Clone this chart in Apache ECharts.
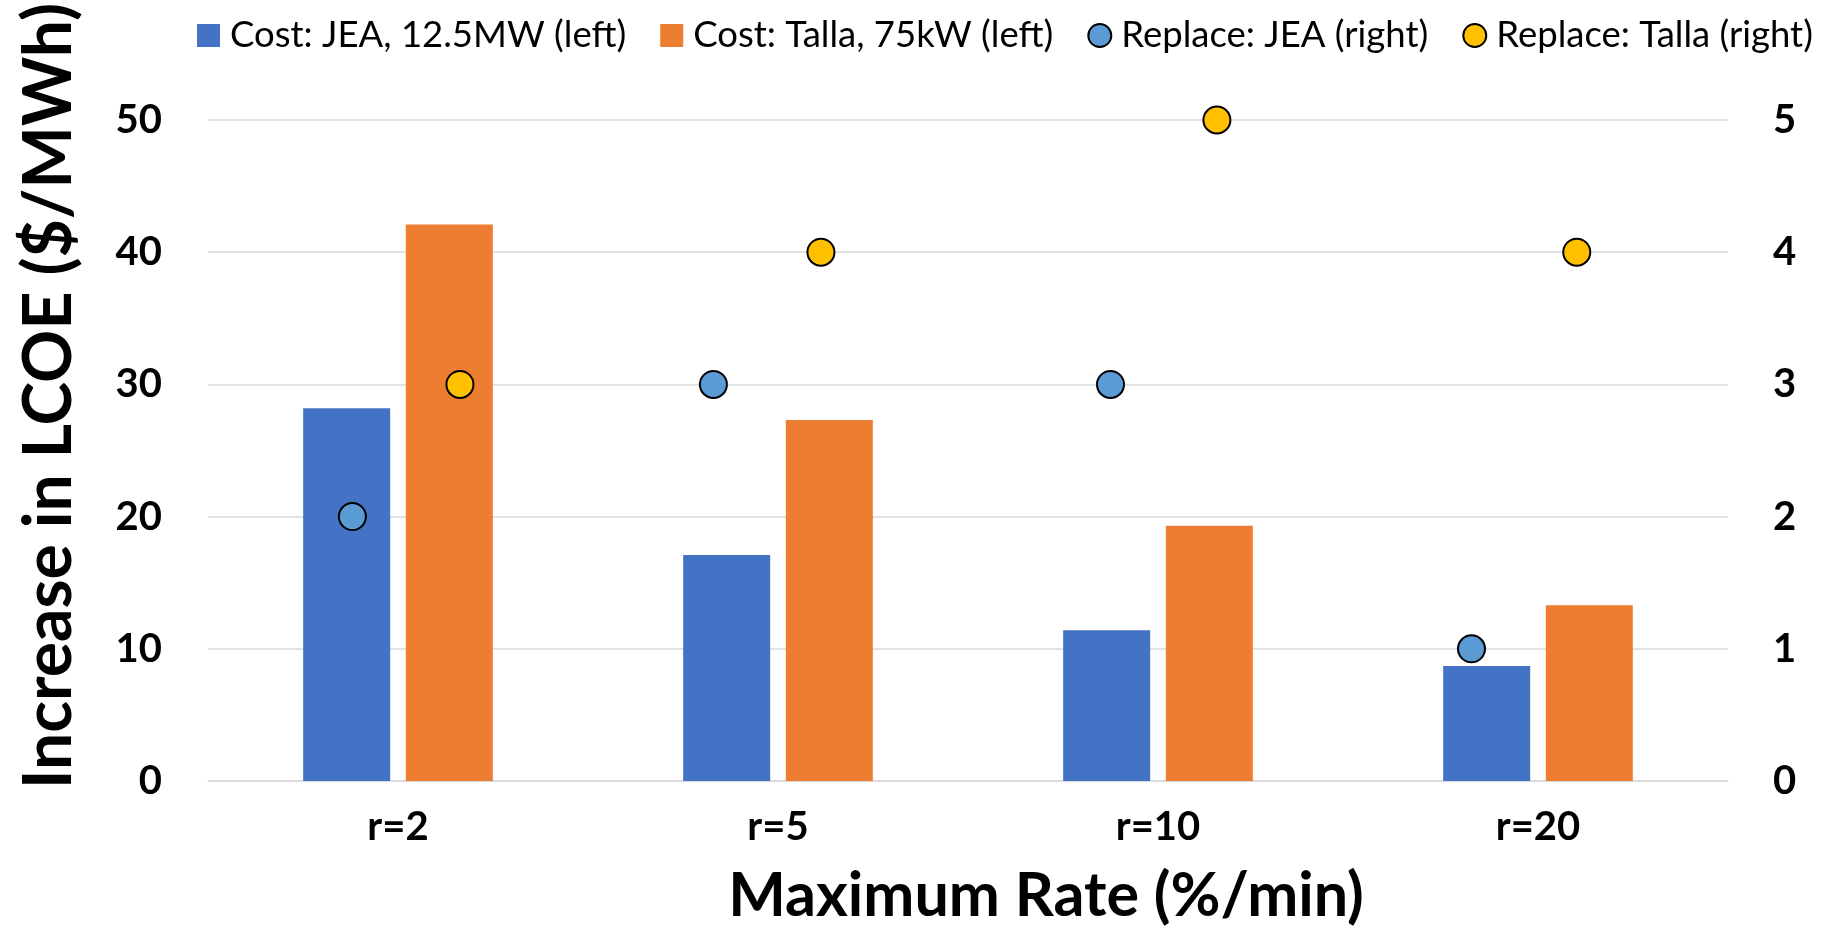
<!DOCTYPE html>
<html>
<head>
<meta charset="utf-8">
<script src="https://cdn.jsdelivr.net/npm/echarts@6/dist/echarts.min.js"></script>
<style>
html,body{margin:0;padding:0;background:#fff;}
#chart{width:1825px;height:928px;}
</style>
</head>
<body>
<div id="chart"></div>
<script>
const categories = ['r=2', 'r=5', 'r=10', 'r=20'];
const costJEA = [28.2, 17.1, 11.4, 8.7];
const costTalla = [42.1, 27.3, 19.3, 13.3];
const replaceJEA = [2, 3, 3, 1];
const replaceTalla = [3, 4, 5, 4];
// scatter x values (in category units, as plotted in the source chart)
const replaceJEAX = [0.38, 1.33, 2.375, 3.325];
const replaceTallaX = [0.663, 1.613, 2.655, 3.602];
const leftTicks = [0, 10, 20, 30, 40, 50];
const rightTicks = [0, 1, 2, 3, 4, 5];

const FONT = 'Lato, "Noto Sans", sans-serif';
const chart = echarts.init(document.getElementById('chart'), null, {renderer: 'canvas'});

const option = {
  backgroundColor: '#ffffff',
  animation: false,
  legend: {
    top: 17, left: 197, padding: 0,
    itemWidth: 23, itemHeight: 23, itemGap: 34,
    textStyle: {fontFamily: FONT, fontSize: 36.5, color: '#000', lineHeight: 37, padding: [0, 0, 0, 5]},
    data: [
      {name: 'Cost: JEA, 12.5MW (left)', icon: 'rect'},
      {name: 'Cost: Talla, 75kW (left)', icon: 'rect'},
      {name: 'Replace: JEA (right)', icon: 'circle'},
      {name: 'Replace: Talla (right)', icon: 'circle'}
    ]
  },
  grid: {left: 208, right: 97, top: 120, bottom: 147},
  xAxis: [
    {
      type: 'category', data: categories,
      axisLine: {show: true, lineStyle: {color: '#d9d9d9', width: 1.5}},
      axisTick: {show: false},
      axisLabel: {fontFamily: FONT, fontWeight: 'bold', fontSize: 40, color: '#000', margin: 26}
    },
    {type: 'value', min: 0, max: 4, show: false}
  ],
  yAxis: [
    {
      type: 'value', min: leftTicks[0], max: leftTicks[leftTicks.length - 1], interval: 10,
      axisLine: {show: false}, axisTick: {show: false},
      splitLine: {lineStyle: {color: '#d9d9d9', width: 1.5}},
      axisLabel: {fontFamily: FONT, fontWeight: 'bold', fontSize: 40, color: '#000', margin: 46}
    },
    {
      type: 'value', min: rightTicks[0], max: rightTicks[rightTicks.length - 1], interval: 1,
      axisLine: {show: false}, axisTick: {show: false},
      splitLine: {show: false},
      axisLabel: {fontFamily: FONT, fontWeight: 'bold', fontSize: 40, color: '#000', margin: 45}
    }
  ],
  series: [
    {
      name: 'Cost: JEA, 12.5MW (left)', type: 'bar', xAxisIndex: 0, yAxisIndex: 0,
      data: costJEA, barWidth: 87, barGap: '18%',
      itemStyle: {color: '#4472C4'}
    },
    {
      name: 'Cost: Talla, 75kW (left)', type: 'bar', xAxisIndex: 0, yAxisIndex: 0,
      data: costTalla, barWidth: 87, barGap: '18%',
      itemStyle: {color: '#ED7D31'}
    },
    {
      name: 'Replace: JEA (right)', type: 'scatter', xAxisIndex: 1, yAxisIndex: 1,
      data: replaceJEA.map((v, i) => [replaceJEAX[i], v]),
      symbol: 'circle', symbolSize: 27,
      itemStyle: {color: '#5B9BD5', borderColor: '#000', borderWidth: 2, opacity: 1},
      z: 5
    },
    {
      name: 'Replace: Talla (right)', type: 'scatter', xAxisIndex: 1, yAxisIndex: 1,
      data: replaceTalla.map((v, i) => [replaceTallaX[i], v]),
      symbol: 'circle', symbolSize: 27,
      itemStyle: {color: '#FFC000', borderColor: '#000', borderWidth: 2, opacity: 1},
      z: 5
    }
  ],
  graphic: [
    {
      type: 'text', x: 50, y: 396, rotation: Math.PI / 2,
      style: {text: 'Increase in LCOE ($/MWh)', fontFamily: FONT, fontWeight: 'bold', fontSize: 66,
              fill: '#000', align: 'center', verticalAlign: 'middle'}
    },
    {
      type: 'text', x: 1046, y: 896,
      style: {text: 'Maximum Rate (%/min)', fontFamily: FONT, fontWeight: 'bold', fontSize: 61,
              fill: '#000', align: 'center', verticalAlign: 'middle'}
    }
  ]
};
chart.setOption(option);
</script>
</body>
</html>
